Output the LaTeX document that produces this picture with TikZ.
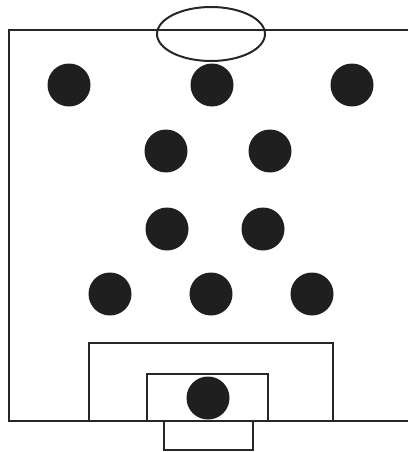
\documentclass[tikz,border=0pt]{standalone}
\begin{document}
\begin{tikzpicture}[x=1pt,y=-1pt,
  line/.style={draw=black!85,line width=2pt},
  player/.style={fill=black!88,draw=none}]
\useasboundingbox (0,0) rectangle (408,452);
% field
\draw[line] (408,30) -- (9,30) -- (9,421) -- (408,421);
% top circle
\draw[line] (211,34) ellipse [x radius=54, y radius=27];
% penalty box
\draw[line] (89,421) -- (89,343) -- (333,343) -- (333,421);
\draw[line] (147,421) -- (147,374) -- (268,374) -- (268,421);
% goal
\draw[line] (164,421) -- (164,450) -- (253,450) -- (253,421);
% players
\foreach \x/\y in {69/85,212/85,352/85,166/151,270/151,167/229,263/229,110/294,211/294,312/294,208/398}
  \fill[player] (\x,\y) circle (21.5);
\end{tikzpicture}
\end{document}
